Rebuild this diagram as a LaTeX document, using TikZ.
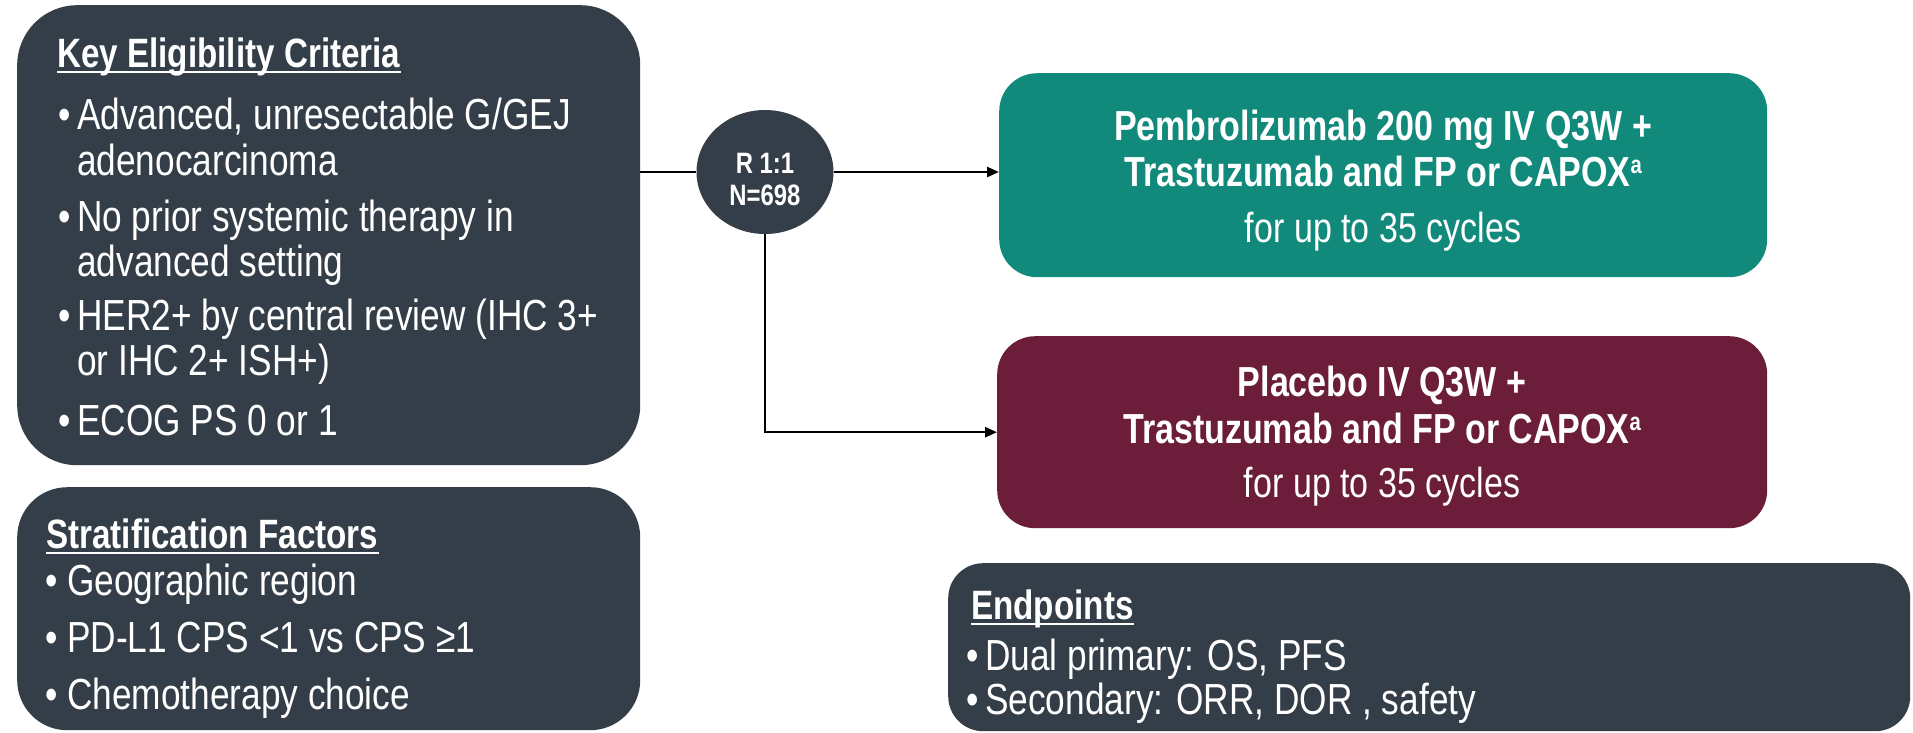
\documentclass[tikz,border=0pt]{standalone}
\usepackage{fontspec}
\setmainfont{Liberation Sans}[FakeStretch=0.81]
\usetikzlibrary{shapes.geometric,arrows.meta}
\definecolor{slate}{HTML}{343E48}
\definecolor{armgreen}{HTML}{118A7B}
\definecolor{armred}{HTML}{6B1D3A}
\tikzset{
  panel/.style={rectangle, inner sep=0pt, draw=none, anchor=north west},
  body/.style={text=white, inner sep=0pt, font=\fontsize{43.5pt}{48pt}\selectfont, anchor=base west},
  head/.style={text=white, inner sep=0pt, font=\bfseries\fontsize{41pt}{46pt}\selectfont, anchor=base west},
  armb/.style={text=white, inner sep=0pt, font=\bfseries\fontsize{42pt}{46pt}\selectfont, anchor=base},
  arml/.style={text=white, inner sep=0pt, font=\fontsize{42pt}{46pt}\selectfont, anchor=base},
  bul/.style={text=white, inner sep=0pt, font=\fontsize{43.5pt}{48pt}\selectfont, anchor=base east},
  rtxt/.style={text=white, inner sep=0pt, font=\bfseries\fontsize{29.5pt}{32pt}\selectfont, anchor=base},
  conn/.style={line width=2.5pt, black},
  tip/.style={-{Triangle[length=12pt,width=10pt]}},
  uline/.style={white, line width=2.4pt},
}
\newcommand{\supa}{\raisebox{13pt}{\fontsize{25pt}{25pt}\selectfont a}}
\begin{document}
\begin{tikzpicture}[x=1pt,y=-1pt]
\useasboundingbox (0,0) rectangle (1913,732);
\fill[white] (0,0) rectangle (1913,732);

% panels
\node[panel, fill=slate, minimum width=623pt, minimum height=460pt, rounded corners=60pt] (b1) at (17,5) {};
\node[panel, fill=slate, minimum width=623pt, minimum height=243pt, rounded corners=50pt] (b2) at (17,487) {};
\node[panel, fill=armgreen, minimum width=768pt, minimum height=204pt, rounded corners=38pt] (g) at (999,73) {};
\node[panel, fill=armred, minimum width=770pt, minimum height=192pt, rounded corners=38pt] (p) at (997,336) {};
\node[panel, fill=slate, minimum width=962pt, minimum height=168pt, rounded corners=35pt] (e) at (948,563) {};
\node[ellipse, fill=slate, inner sep=0pt, minimum width=137pt, minimum height=124pt] (c) at (765,172) {};

% eligibility
\node[head] (t1) at (57,67) {Key Eligibility Criteria};
\draw[uline] ([yshift=-5pt]t1.base west) -- ([yshift=-5pt]t1.base east);
\node[bul] (k1) at (71,129) {•};
\node[body] (k1a) at (77,129) {Advanced, unresectable G/GEJ};
\node[body] (k1b) at (77,175) {adenocarcinoma};
\node[bul] (k2) at (71,231) {•};
\node[body] (k2a) at (77,231) {No prior systemic therapy in};
\node[body] (k2b) at (77,276) {advanced setting};
\node[bul] (k3) at (71,330) {•};
\node[body] (k3a) at (77,330) {HER2+ by central review (IHC 3+};
\node[body] (k3b) at (77,375) {or IHC 2+ ISH+)};
\node[bul] (k4) at (71,435) {•};
\node[body] (k4a) at (77,435) {ECOG PS 0 or 1};

% stratification
\node[head] (t2) at (46,548) {Stratification Factors};
\draw[uline] ([yshift=-5pt]t2.base west) -- ([yshift=-5pt]t2.base east);
\node[bul] (s1) at (58,595) {•};
\node[body] (s1a) at (67,595) {Geographic region};
\node[bul] (s2) at (58,652) {•};
\node[body] (s2a) at (67,652) {PD-L1 CPS <1 vs CPS ≥1};
\node[bul] (s3) at (58,709) {•};
\node[body] (s3a) at (67,709) {Chemotherapy choice};

% endpoints
\node[head] (t3) at (971,619) {Endpoints};
\draw[uline] ([yshift=-5pt]t3.base west) -- ([yshift=-5pt]t3.base east);
\node[bul] (e1) at (979,670) {•};
\node[body] (e1a) at (985,670) {Dual primary: OS, PFS};
\node[bul] (e2) at (979,714) {•};
\node[body] (e2a) at (985,714) {Secondary: ORR, DOR , safety};

% arms
\node[armb] (g1) at (1383,140) {Pembrolizumab 200 mg IV Q3W +};
\node[armb] (g2) at (1383,186) {Trastuzumab and FP or CAPOX\supa};
\node[arml] (g3) at (1383,242) {for up to 35 cycles};
\node[armb] (p1) at (1382,396) {Placebo IV Q3W +};
\node[armb] (p2) at (1382,443) {Trastuzumab and FP or CAPOX\supa};
\node[arml] (p3) at (1382,497) {for up to 35 cycles};

% randomisation
\node[rtxt] (r1) at (765,173) {R 1:1};
\node[rtxt] (r2) at (765,205) {N=698};

% connectors
\draw[conn] (c.west -| b1.east) -- (c.west);
\draw[conn, tip] (c.east) -- (c.east -| g.west);
\draw[conn, tip] (c.south) |- (p.west);
\end{tikzpicture}
\end{document}
